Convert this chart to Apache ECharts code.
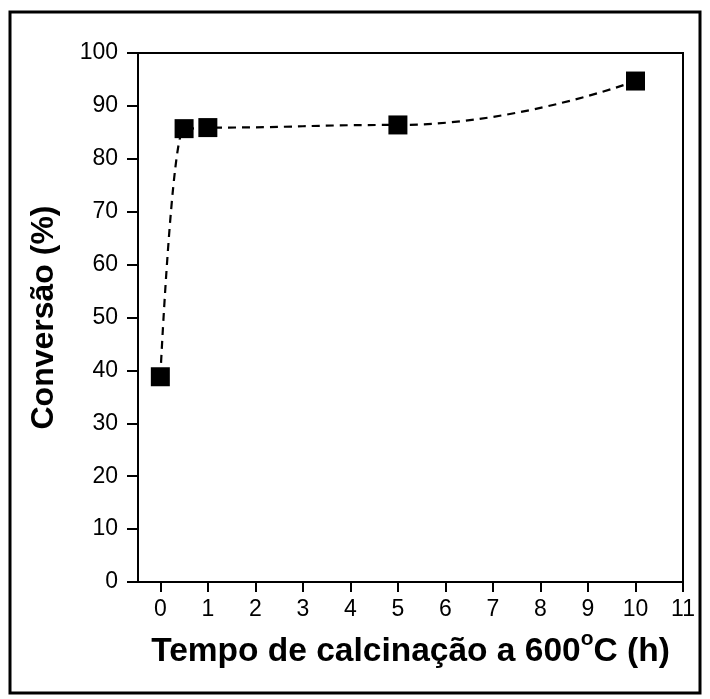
<!DOCTYPE html>
<html><head><meta charset="utf-8">
<script src="https://cdn.jsdelivr.net/npm/echarts@6/dist/echarts.min.js"></script>
<style>html,body{margin:0;padding:0;background:#fff}#c{width:710px;height:699px}</style>
</head><body><div id="c"></div>
<script>
const xValues = [0, 0.5, 1, 5, 10];
const conversion = [38.8, 85.7, 85.9, 86.4, 94.7];
const xTicks = [0,1,2,3,4,5,6,7,8,9,10,11];
const yTicks = [0,10,20,30,40,50,60,70,80,90,100];

const chart = echarts.init(document.getElementById('c'));
const font = 'Liberation Sans, Arial, sans-serif';
chart.setOption({
  animation: false,
  backgroundColor: '#fff',
  graphic: [{
    type: 'rect', shape: {x: 10, y: 12, width: 690, height: 681},
    style: {fill: 'none', stroke: '#000', lineWidth: 3}, silent: true
  }],
  grid: {left: 138, right: 27, top: 53, bottom: 117, show: true, borderColor: '#000', borderWidth: 2, backgroundColor: 'transparent'},
  xAxis: {
    type: 'value', min: -0.47, max: 11,
    name: '{t|Tempo de calcinação a 600}{s|o}{t|C (h)}',
    nameLocation: 'middle', nameGap: 47,
    nameTextStyle: {rich: {
      t: {fontFamily: font, fontSize: 33.5, fontWeight: 'bold', color: '#000', verticalAlign: 'bottom', lineHeight: 40},
      s: {fontFamily: font, fontSize: 21, fontWeight: 'bold', color: '#000', verticalAlign: 'top', padding: [0,0,19,0], lineHeight: 40}
    }},
    axisLine: {show: true, onZero: false, lineStyle: {color: '#000', width: 2}},
    axisTick: {show: true, inside: false, length: 10, lineStyle: {color: '#000', width: 2}, customValues: xTicks},
    axisLabel: {color: '#000', fontSize: 23, fontFamily: font, margin: 16, customValues: xTicks},
    splitLine: {show: false}
  },
  yAxis: {
    type: 'value', min: 0, max: 100, interval: 10,
    name: 'Conversão (%)', nameLocation: 'middle', nameGap: 78,
    nameTextStyle: {fontFamily: font, fontSize: 32, fontWeight: 'bold', color: '#000'},
    axisLine: {show: true, onZero: false, lineStyle: {color: '#000', width: 2}},
    axisTick: {show: true, length: 11, lineStyle: {color: '#000', width: 2}},
    axisLabel: {color: '#000', fontSize: 23, fontFamily: font, margin: 20},
    splitLine: {show: false}
  },
  series: [{
    type: 'line',
    data: xValues.map((x, i) => [x, conversion[i]]),
    smooth: 0.5, smoothMonotone: 'x',
    symbol: 'rect', symbolSize: 19,
    itemStyle: {color: '#000'},
    lineStyle: {color: '#000', width: 2.2, type: [8, 6]},
    z: 3
  }]
});
</script></body></html>
